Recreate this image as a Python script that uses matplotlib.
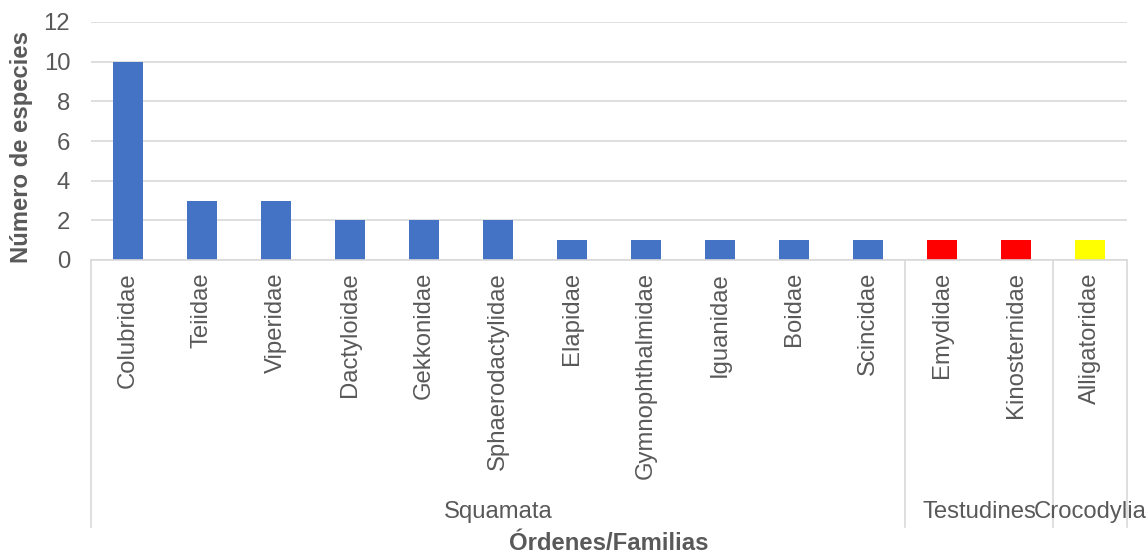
import matplotlib.pyplot as plt
import matplotlib.transforms as mtransforms

plt.rcParams['font.family'] = ['Liberation Sans', 'DejaVu Sans']

familias = ['Colubridae', 'Teiidae', 'Viperidae', 'Dactyloidae', 'Gekkonidae',
            'Sphaerodactylidae', 'Elapidae', 'Gymnophthalmidae', 'Iguanidae',
            'Boidae', 'Scincidae', 'Emydidae', 'Kinosternidae', 'Alligatoridae']
especies = [10, 3, 3, 2, 2, 2, 1, 1, 1, 1, 1, 1, 1, 1]
ordenes = ['Squamata', 'Testudines', 'Crocodylia']
n_por_orden = [11, 2, 1]
colores_orden = ['#4472C4', '#FF0000', '#FFFF00']

gris = '#595959'
linea = '#D9D9D9'
fs = 17.2
W, H = 1148, 554

fig = plt.figure(figsize=(W / 100, H / 100), dpi=100)
ax = fig.add_axes([91 / W, (H - 260) / H, (1127 - 91) / W, (260 - 22) / H])

colores = []
for c, n in zip(colores_orden, n_por_orden):
    colores += [c] * n

x = list(range(len(familias)))
ax.bar(x, especies, width=0.4, color=colores, zorder=3)

ax.set_xlim(-0.5, len(familias) - 0.5)
ax.set_ylim(0, 12)
ax.set_yticks(range(0, 13, 2))
ax.yaxis.grid(True, color=linea, linewidth=1.2, zorder=0)
ax.tick_params(axis='y', length=0, pad=15, labelsize=fs, labelcolor=gris)
ax.tick_params(axis='x', length=0, labelbottom=False)
for s in ['top', 'right', 'left']:
    ax.spines[s].set_visible(False)
ax.spines['bottom'].set_color(linea)
ax.spines['bottom'].set_linewidth(1.2)
ax.spines['bottom'].set_zorder(4)

px = 1 / (260 - 22)  # one pixel in axes fraction (vertical)
trans = mtransforms.blended_transform_factory(ax.transData, ax.transAxes)

# family names, rotated under each bar
for xi, nombre in zip(x, familias):
    ax.text(xi, -12 * px, nombre, rotation=90, ha='center', va='top',
            fontsize=fs, color=gris, transform=trans)

# group separators and order names
bordes = [0]
for n in n_por_orden:
    bordes.append(bordes[-1] + n)
for b in bordes:
    ax.plot([b - 0.5, b - 0.5], [0, -(527 - 260) * px], color=linea,
            linewidth=1.2, transform=trans, clip_on=False)
for i, nombre in enumerate(ordenes):
    centro = (bordes[i] + bordes[i + 1] - 1) / 2
    ax.text(centro, -(512 - 260) * px, nombre, ha='center', va='center',
            fontsize=fs, color=gris, transform=trans)

ax.text(0.5, -(544 - 260) * px, 'Órdenes/Familias', ha='center', va='center',
        fontsize=fs, fontweight='bold', color=gris, transform=ax.transAxes)
ax.set_ylabel('Número de especies', fontsize=fs, fontweight='bold', color=gris)
ax.yaxis.set_label_coords((33 - 91) / (1127 - 91), (260 - 147) * px)

fig.savefig('out.png', dpi=100)
